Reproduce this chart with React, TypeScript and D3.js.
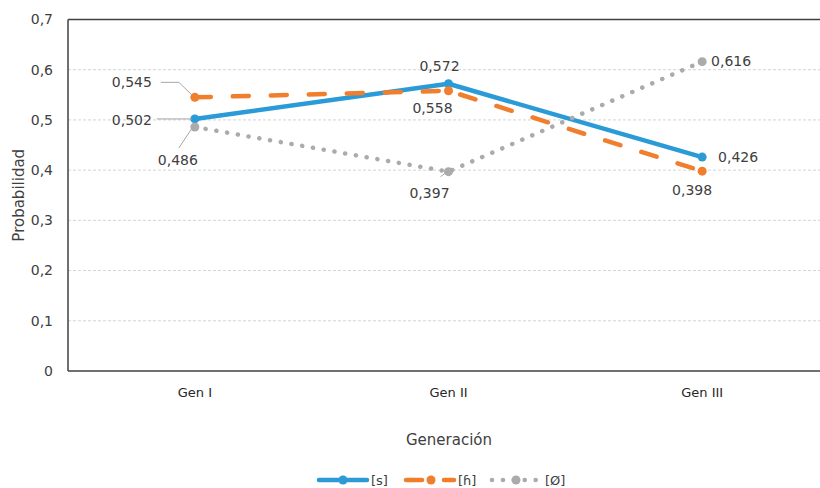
import React from "react";
import * as d3 from "d3";

const generations = ["Gen I", "Gen II", "Gen III"];
const seriesS = [0.502, 0.572, 0.426];
const seriesH = [0.545, 0.558, 0.398];
const seriesO = [0.486, 0.397, 0.616];
const yTicks = [0, 0.1, 0.2, 0.3, 0.4, 0.5, 0.6, 0.7];
const seriesNames = ["[s]", "[ɦ]", "[Ø]"];

const W = 820;
const H = 488;
const left = 68;
const right = 829;
const top = 19.5;
const bottom = 371;

const FONT = "'DejaVu Sans', sans-serif";
const BLUE = "#2B9BD8";
const ORANGE = "#F07E2C";
const GREY = "#ABABAB";

const fmt = (v: number) => v.toFixed(3).replace(".", ",");
const fmtTick = (v: number) => (v === 0 ? "0" : v.toFixed(1).replace(".", ","));

type Label = { s: number; i: number; dx: number; dy: number; leader?: number[][] };

export default function App() {
  const x = d3.scalePoint<string>().domain(generations).range([left, right]).padding(0.5);
  const y = d3.scaleLinear().domain([0, 0.7]).range([bottom, top]);

  const line = d3
    .line<number>()
    .x((_, i) => x(generations[i]) as number)
    .y((d) => y(d));

  const series = [
    { name: seriesNames[0], values: seriesS, color: BLUE, dash: undefined as string | undefined },
    { name: seriesNames[1], values: seriesH, color: ORANGE, dash: "16 22" },
    { name: seriesNames[2], values: seriesO, color: GREY, dash: "0.1 10.8" },
  ];

  const px = (i: number) => x(generations[i]) as number;

  // data label offsets (text centre) relative to each point, with optional leader lines
  const labels: Label[] = [
    { s: 0, i: 0, dx: -63, dy: 1, leader: [[-3, 0], [-38, 0]] },
    { s: 0, i: 1, dx: -9, dy: -18 },
    { s: 0, i: 2, dx: 36, dy: 0 },
    { s: 1, i: 0, dx: -63, dy: -15, leader: [[-3, -2.5], [-16, -15], [-34, -15]] },
    { s: 1, i: 1, dx: -16, dy: 17 },
    { s: 1, i: 2, dx: -10, dy: 19 },
    { s: 2, i: 0, dx: -17, dy: 33, leader: [[-3, 1.5], [-16, 21]] },
    { s: 2, i: 1, dx: -19, dy: 21, leader: [[-1, 0], [-8, 5]] },
    { s: 2, i: 2, dx: 29, dy: -1 },
  ];

  return (
    <svg width={W} height={H} style={{ position: "absolute", left: 0, top: 0, background: "#fff" }}>
      {/* horizontal gridlines */}
      {yTicks.slice(1, -1).map((t) => (
        <line key={t} x1={left} x2={right} y1={y(t)} y2={y(t)} stroke="#d4d4d4" strokeWidth={1} strokeDasharray="3 2" />
      ))}
      {/* plot frame */}
      <line x1={left} x2={right} y1={top} y2={top} stroke="#404040" strokeWidth={1.5} />
      <line x1={left} x2={right} y1={bottom} y2={bottom} stroke="#404040" strokeWidth={1.5} />
      <line x1={left} x2={left} y1={top} y2={bottom} stroke="#404040" strokeWidth={1.5} />

      {/* y tick labels */}
      {yTicks.map((t) => (
        <text key={t} x={53} y={y(t)} dy="0.35em" textAnchor="end" fontFamily={FONT} fontSize={14} fill="#404040">
          {fmtTick(t)}
        </text>
      ))}
      <text
        transform={`translate(19,${(top + bottom) / 2}) rotate(-90)`}
        textAnchor="middle"
        dy="0.35em"
        fontFamily={FONT}
        fontSize={15}
        fill="#404040"
      >
        Probabilidad
      </text>

      {/* x tick labels */}
      {generations.map((g) => (
        <text key={g} x={x(g)} y={392} dy="0.35em" textAnchor="middle" fontFamily={FONT} fontSize={13} fill="#262626">
          {g}
        </text>
      ))}
      <text x={449} y={440} dy="0.35em" textAnchor="middle" fontFamily={FONT} fontSize={15} fill="#404040">
        Generación
      </text>

      {/* series lines and markers */}
      {series.map((s) => (
        <g key={s.name}>
          <path
            d={line(s.values) as string}
            fill="none"
            stroke={s.color}
            strokeWidth={4.5}
            strokeDasharray={s.dash}
            strokeLinecap="round"
            strokeLinejoin="round"
          />
          {s.values.map((v, i) => (
            <circle key={i} cx={px(i)} cy={y(v)} r={4.5} fill={s.color} />
          ))}
        </g>
      ))}

      {/* data labels with leader lines */}
      {labels.map((l, k) => {
        const v = series[l.s].values[l.i];
        const cx = px(l.i);
        const cy = y(v);
        return (
          <g key={k}>
            {l.leader && (
              <polyline
                points={l.leader.map(([a, b]) => `${cx + a},${cy + b}`).join(" ")}
                fill="none"
                stroke="#a6a6a6"
                strokeWidth={1}
              />
            )}
            <text
              x={cx + l.dx}
              y={cy + l.dy}
              dy="0.35em"
              textAnchor="middle"
              fontFamily={FONT}
              fontSize={14}
              fill="#404040"
            >
              {fmt(v)}
            </text>
          </g>
        );
      })}

      {/* legend */}
      <g>
        <line x1={319} x2={367} y1={480} y2={480} stroke={BLUE} strokeWidth={4.5} strokeLinecap="round" />
        <circle cx={343} cy={480} r={4.5} fill={BLUE} />
        <text x={371} y={480} dy="0.35em" fontFamily={FONT} fontSize={13} fill="#404040">{seriesNames[0]}</text>

        <line x1={406} x2={454} y1={480} y2={480} stroke={ORANGE} strokeWidth={4.5} strokeLinecap="round" strokeDasharray="16 22" />
        <circle cx={431} cy={480} r={4.5} fill={ORANGE} />
        <text x={458} y={480} dy="0.35em" fontFamily={FONT} fontSize={13} fill="#404040">{seriesNames[1]}</text>

        <line x1={492} x2={540} y1={480} y2={480} stroke={GREY} strokeWidth={4.5} strokeLinecap="round" strokeDasharray="0.1 10.8" />
        <circle cx={516} cy={480} r={4.5} fill={GREY} />
        <text x={545} y={480} dy="0.35em" fontFamily={FONT} fontSize={13} fill="#404040">{seriesNames[2]}</text>
      </g>
    </svg>
  );
}
